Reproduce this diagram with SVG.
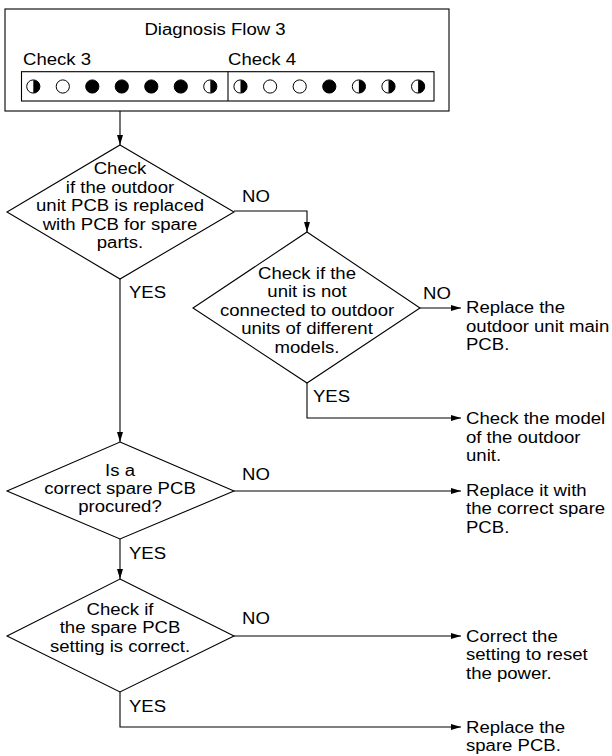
<svg xmlns="http://www.w3.org/2000/svg" xmlns:xlink="http://www.w3.org/1999/xlink" width="612" height="756" viewBox="0 0 612 756">
<style>
.t{font-family:"Liberation Sans",Arial,Helvetica,sans-serif;font-size:16px;fill:#000}
.m{text-anchor:middle}
.shape{fill:#fff;stroke:#000;stroke-width:1.1}
.conn{fill:none;stroke:#000;stroke-width:1.1}
</style>
<defs>
<marker id="ah" markerUnits="userSpaceOnUse" markerWidth="11" markerHeight="7" refX="10" refY="3" orient="auto">
<path d="M0,0 L10,3 L0,6 Z" fill="#000"/>
</marker>
<circle id="off" r="6.6" fill="#fff" stroke="#000" stroke-width="1"/>
<circle id="on" r="6.6" fill="#000" stroke="#000" stroke-width="1"/>
<g id="half"><circle r="6.6" fill="#fff" stroke="#000" stroke-width="1"/><path d="M0,-6.6 A6.6,6.6 0 0 1 0,6.6 Z" fill="#000"/></g>
</defs>
<rect width="612" height="756" fill="#fff"/>

<g id="header">
<rect class="shape" x="5" y="9" width="444" height="102" stroke-width="1.2"/>
<text class="t m" transform="translate(215,0) scale(1.16,1)" y="35.5">Diagnosis Flow 3</text>
<text class="t" transform="translate(23,0) scale(1.16,1)" y="65.5">Check 3</text>
<text class="t" transform="translate(228,0) scale(1.16,1)" y="65.5">Check 4</text>
<rect class="shape" x="21.5" y="71.7" width="412.5" height="29.3"/>
<line x1="228" y1="71.7" x2="228" y2="101" stroke="#000" stroke-width="1.1"/>
<use xlink:href="#half" x="33.3" y="86.5"/>
<use xlink:href="#off" x="62.8" y="86.5"/>
<use xlink:href="#on" x="92.3" y="86.5"/>
<use xlink:href="#on" x="121.8" y="86.5"/>
<use xlink:href="#on" x="151.3" y="86.5"/>
<use xlink:href="#on" x="180.8" y="86.5"/>
<use xlink:href="#half" x="210.3" y="86.5"/>
<use xlink:href="#half" x="240.5" y="86.5"/>
<use xlink:href="#off" x="270.1" y="86.5"/>
<use xlink:href="#off" x="299.7" y="86.5"/>
<use xlink:href="#on" x="329.3" y="86.5"/>
<use xlink:href="#half" x="358.9" y="86.5"/>
<use xlink:href="#half" x="388.5" y="86.5"/>
<use xlink:href="#half" x="418.1" y="86.5"/>
</g>

<g id="connectors">
<path class="conn" d="M120,111 V145" marker-end="url(#ah)"/>
<path class="conn" d="M234,211 H307 V232" marker-end="url(#ah)"/>
<path class="conn" d="M120,279 V442" marker-end="url(#ah)"/>
<path class="conn" d="M420,308 H461" marker-end="url(#ah)"/>
<path class="conn" d="M307,383 V418 H461" marker-end="url(#ah)"/>
<path class="conn" d="M234,491 H461" marker-end="url(#ah)"/>
<path class="conn" d="M120,539 V579" marker-end="url(#ah)"/>
<path class="conn" d="M234,636 H461" marker-end="url(#ah)"/>
<path class="conn" d="M120,692 V727 H461" marker-end="url(#ah)"/>
<text class="t" transform="translate(242,0) scale(1.16,1)" y="202">NO</text>
<text class="t" transform="translate(129,0) scale(1.16,1)" y="298.3">YES</text>
<text class="t" transform="translate(423,0) scale(1.16,1)" y="299.5">NO</text>
<text class="t" transform="translate(313,0) scale(1.16,1)" y="402">YES</text>
<text class="t" transform="translate(242,0) scale(1.16,1)" y="480">NO</text>
<text class="t" transform="translate(129,0) scale(1.16,1)" y="559">YES</text>
<text class="t" transform="translate(242,0) scale(1.16,1)" y="624">NO</text>
<text class="t" transform="translate(129,0) scale(1.16,1)" y="712">YES</text>
</g>

<g id="d1">
<polygon class="shape" points="120,145 234,212 120,279 7,212"/>
<text class="t m" transform="translate(120,0) scale(1.16,1)"><tspan x="0" y="174.3">Check</tspan><tspan x="0" y="192.8">if the outdoor</tspan><tspan x="0" y="211.3">unit PCB is replaced</tspan><tspan x="0" y="229.8">with PCB for spare</tspan><tspan x="0" y="248.3">parts.</tspan></text>
</g>

<g id="d2">
<polygon class="shape" points="307,232 420,308 307,383 193,308"/>
<text class="t m" transform="translate(307,0) scale(1.16,1)"><tspan x="0" y="279">Check if the</tspan><tspan x="0" y="297.4">unit is not</tspan><tspan x="0" y="315.8">connected to outdoor</tspan><tspan x="0" y="334.2">units of different</tspan><tspan x="0" y="352.6">models.</tspan></text>
</g>

<g id="d3">
<polygon class="shape" points="120,442 234,491 120,539 7,491"/>
<text class="t m" transform="translate(120,0) scale(1.16,1)"><tspan x="0" y="475.7">Is a</tspan><tspan x="0" y="494">correct spare PCB</tspan><tspan x="0" y="512.3">procured?</tspan></text>
</g>

<g id="d4">
<polygon class="shape" points="120,579 234,636 120,692 7,636"/>
<text class="t m" transform="translate(120,0) scale(1.16,1)"><tspan x="0" y="615">Check if</tspan><tspan x="0" y="633.4">the spare PCB</tspan><tspan x="0" y="651.8">setting is correct.</tspan></text>
</g>

<g id="r1">
<text class="t" transform="translate(466,0) scale(1.16,1)"><tspan x="0" y="313.5">Replace the</tspan><tspan x="0" y="332">outdoor unit main</tspan><tspan x="0" y="350.5">PCB.</tspan></text>
</g>
<g id="r2">
<text class="t" transform="translate(466,0) scale(1.16,1)"><tspan x="0" y="424.5">Check the model</tspan><tspan x="0" y="443">of the outdoor</tspan><tspan x="0" y="461.5">unit.</tspan></text>
</g>
<g id="r3">
<text class="t" transform="translate(466,0) scale(1.16,1)"><tspan x="0" y="496">Replace it with</tspan><tspan x="0" y="514.5">the correct spare</tspan><tspan x="0" y="533">PCB.</tspan></text>
</g>
<g id="r4">
<text class="t" transform="translate(466,0) scale(1.16,1)"><tspan x="0" y="642">Correct the</tspan><tspan x="0" y="660.5">setting to reset</tspan><tspan x="0" y="679">the power.</tspan></text>
</g>
<g id="r5">
<text class="t" transform="translate(466,0) scale(1.16,1)"><tspan x="0" y="733">Replace the</tspan><tspan x="0" y="751.5">spare PCB.</tspan></text>
</g>
</svg>
